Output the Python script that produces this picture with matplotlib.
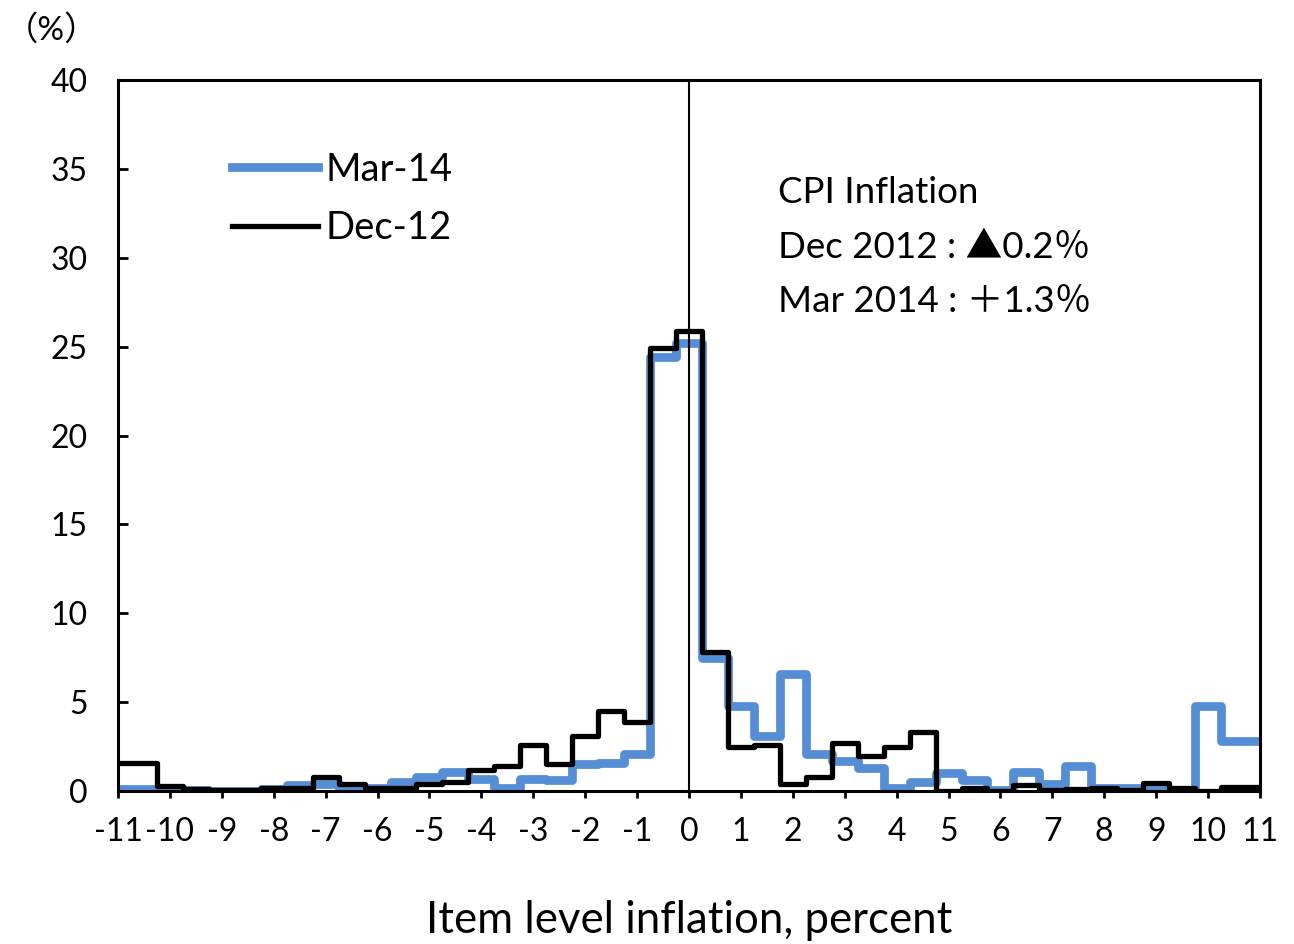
import matplotlib.pyplot as plt
import numpy as np

plt.rcParams['font.family'] = ['Lato', 'Noto Sans CJK JP', 'DejaVu Sans']
plt.rcParams['axes.unicode_minus'] = False

# bin centres, 0.5 percentage point apart
centers = np.arange(-11, 11.01, 0.5)

dec12 = [1.6, 1.6, 0.3, 0.1, 0.05, 0.05, 0.15, 0.15, 0.8, 0.4, 0.15,
         0.2, 0.4, 0.5, 1.2, 1.4, 2.6, 1.5, 3.1, 4.5, 3.9, 24.9,
         25.9, 7.8, 2.5, 2.6, 0.4, 0.8, 2.7, 2.0, 2.5, 3.3, 0.0,
         0.2, 0.0, 0.35, 0.05, 0.1, 0.2, 0.05, 0.45, 0.15, 0.0, 0.25, 0.25]
mar14 = [0.1, 0.1, 0.1, 0.05, 0.0, 0.0, 0.1, 0.35, 0.4, 0.05, 0.15,
         0.5, 0.8, 1.1, 0.7, 0.2, 0.7, 0.6, 1.5, 1.6, 2.1, 24.4,
         25.2, 7.5, 4.8, 3.1, 6.6, 2.1, 1.7, 1.3, 0.2, 0.5, 1.0,
         0.6, 0.05, 1.1, 0.4, 1.4, 0.2, 0.2, 0.05, 0.0, 4.8, 2.8, 2.8]

edges = np.concatenate([[-11], centers[:-1] + 0.25, [11]])

fig = plt.figure(figsize=(12.94, 9.44), dpi=100)
ax = fig.add_axes([0.0912, 0.162, 0.8825, 0.7533])

ax.stairs(mar14, edges, baseline=None, color='#558ed5', linewidth=6.3,
          joinstyle='round', capstyle='round', label='Mar-14')
ax.stairs(dec12, edges, baseline=None, color='black', linewidth=3.8,
          joinstyle='round', capstyle='round', label='Dec-12')
ax.axvline(0, color='black', linewidth=1.5)

ax.set_xlim(-11, 11)
ax.set_ylim(0, 40)
ax.set_xticks(range(-11, 12))
ax.set_yticks(range(0, 41, 5))
ax.tick_params(axis='y', direction='in', length=7, width=2, labelsize=23, pad=22)
ax.tick_params(axis='x', direction='out', length=5, width=2, labelsize=23, pad=14)
for s in ax.spines.values():
    s.set_linewidth(2.2)

ax.set_xlabel('Item level inflation, percent', fontsize=31.5, labelpad=38)
fig.text(0.004, 0.968, '（%）', fontsize=24, va='center')

leg = ax.legend(loc='upper left', bbox_to_anchor=(0.1, 0.899), frameon=False,
                fontsize=27.5, handlelength=2.25, handletextpad=0.2, labelspacing=0.58,
                borderpad=0, borderaxespad=0)
for h in leg.get_patches():
    h.set_capstyle('round')

ax.text(0.578, 0.842, 'CPI Inflation', transform=ax.transAxes, fontsize=26.5, va='center')
ax.text(0.578, 0.765, 'Dec 2012 : ▲0.2％', transform=ax.transAxes, fontsize=26.5, va='center')
ax.text(0.578, 0.688, 'Mar 2014 : ＋1.3％', transform=ax.transAxes, fontsize=26.5, va='center')

fig.savefig('out.png', dpi=100)
